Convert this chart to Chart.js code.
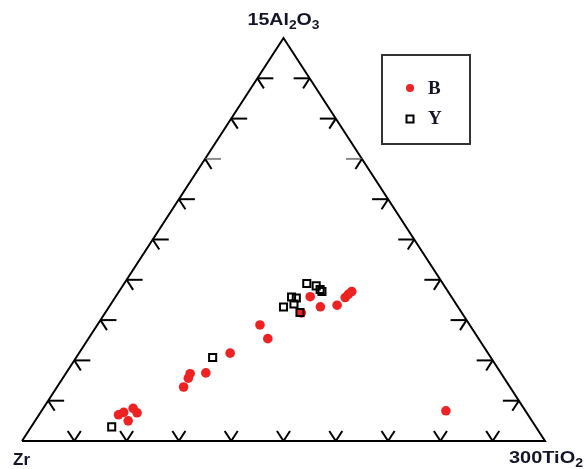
<!DOCTYPE html>
<html>
<head>
<meta charset="utf-8">
<title>Zr – 15Al2O3 – 300TiO2</title>
<script src="https://cdn.jsdelivr.net/npm/chart.js@4.4.1/dist/chart.umd.min.js"></script>
<style>
  html, body { margin: 0; padding: 0; background: #fff; }
  #wrap { width: 586px; height: 469px; }
</style>
</head>
<body>
<div id="wrap"><canvas id="c" width="586" height="469"></canvas></div>
<script>
// Ternary compositions (per cent) for each group: 15Al2O3, Zr, 300TiO2
const bAl = [7.5, 37.1, 36.4, 35.6, 33.7, 33.3, 35.8, 31.8, 28.8, 25.4, 21.8, 16.9, 16.7, 15.6, 13.4, 6.5, 7.1, 5.0, 8.1, 7.0];
const bZr = [15.2, 18.4, 19.4, 20.4, 22.9, 26.3, 27.0, 30.7, 40.1, 40.3, 49.3, 56.4, 59.5, 60.4, 62.4, 78.3, 77.0, 77.2, 74.7, 74.5];
const bTi = [77.3, 44.5, 44.2, 44.0, 43.4, 40.4, 37.2, 37.5, 31.1, 34.3, 28.9, 26.7, 23.8, 24.0, 24.2, 15.2, 15.9, 17.8, 17.2, 18.5];

const yAl = [20.7, 3.5, 39.1, 38.5, 37.6, 37.1, 36.0, 35.5, 33.0, 34.0, 31.9];
const yZr = [53.2, 81.1, 26.0, 24.5, 24.2, 24.1, 30.8, 29.8, 33.1, 31.0, 30.9];
const yTi = [26.1, 15.4, 34.9, 37.0, 38.2, 38.8, 33.9, 34.7, 33.1, 35.0, 37.2];

// Apex labels (text / subscript alternating) and group names
const apexLabels = { top: ['15Al', '2', 'O', '3'], left: ['Zr'], right: ['300TiO', '2'] };
const groupNames = ['B', 'Y'];

// Grid fractions marked along each side
const tickFractions = [0.1, 0.2, 0.3, 0.4, 0.5, 0.6, 0.7, 0.8, 0.9];

// Zr at (0,0), 300TiO2 at (1,0), 15Al2O3 at (0.5,1)
function toXY(al, zr, ti) {
  return al.map((a, i) => {
    const s = a + zr[i] + ti[i];
    return { x: (ti[i] + a / 2) / s, y: a / s };
  });
}

const frame = [{ x: 0, y: 0 }, { x: 1, y: 0 }, { x: 0.5, y: 1 }, { x: 0, y: 0 }];

const ternaryDecor = {
  id: 'ternaryDecor',
  afterDatasetsDraw(chart) {
    const { ctx, scales: { x, y } } = chart;
    const P = (u, v) => ({ px: x.getPixelForValue(u), py: y.getPixelForValue(v) });
    const A = P(0.5, 1), L = P(0, 0), R = P(1, 0);
    const unit = (a, b) => { const dx = b.px - a.px, dy = b.py - a.py, d = Math.hypot(dx, dy); return [dx / d, dy / d]; };
    const upRight = unit(L, A);   // parallel to left side
    const upLeft = unit(R, A);    // parallel to right side
    const arm = 12, flat = 16;

    ctx.save();
    ctx.lineWidth = 2;
    ctx.lineCap = 'butt';
    const seg = (x0, y0, x1, y1, col) => {
      ctx.strokeStyle = col || '#000';
      ctx.beginPath(); ctx.moveTo(x0, y0); ctx.lineTo(x1, y1); ctx.stroke();
    };

    tickFractions.forEach((t, i) => {
      // base: V marks
      const b = P(t, 0);
      seg(b.px, b.py, b.px + upRight[0] * arm, b.py + upRight[1] * arm);
      seg(b.px, b.py, b.px + upLeft[0] * arm, b.py + upLeft[1] * arm);
      const grey = (i === 6) ? '#8a8a8a' : '#000';
      // left side: horizontal to the right + down-right
      const l = P(0.5 * t, t);
      seg(l.px, l.py, l.px + flat, l.py, grey);
      seg(l.px, l.py, l.px - upLeft[0] * arm, l.py - upLeft[1] * arm);
      // right side: horizontal to the left + down-left
      const r = P(1 - 0.5 * t, t);
      seg(r.px, r.py, r.px - flat, r.py, grey);
      seg(r.px, r.py, r.px - upRight[0] * arm, r.py - upRight[1] * arm);
    });

    // apex labels with subscripts, slightly widened
    const big = 'bold 17px "Liberation Sans", Arial, sans-serif';
    const small = 'bold 12px "Liberation Sans", Arial, sans-serif';
    ctx.fillStyle = '#15152a';
    ctx.textBaseline = 'alphabetic';
    ctx.textAlign = 'left';
    const widthOf = (parts) => parts.reduce((w, p, k) => { ctx.font = k % 2 ? small : big; return w + ctx.measureText(p).width; }, 0);
    const drawParts = (parts, startX, baseY, targetW) => {
      const sx = targetW ? targetW / widthOf(parts) : 1;
      ctx.save();
      ctx.translate(startX, baseY);
      ctx.scale(sx, 1);
      let cx = 0;
      parts.forEach((p, k) => {
        const sub = k % 2 === 1;
        ctx.font = sub ? small : big;
        ctx.fillText(p, cx, sub ? 4 : 0);
        cx += ctx.measureText(p).width;
      });
      ctx.restore();
    };
    drawParts(apexLabels.top, A.px - 36, A.py - 13, 72);
    drawParts(apexLabels.left, L.px - 9, L.py + 24, 0);
    drawParts(apexLabels.right, R.px - 36, R.py + 22, 74);

    // legend box
    const bx = 382, by = 55, bw = 88, bh = 89;
    ctx.lineWidth = 2;
    ctx.strokeStyle = '#333';
    ctx.strokeRect(bx, by, bw, bh);
    const ds = chart.data.datasets;
    // B marker
    ctx.fillStyle = ds[1].backgroundColor;
    ctx.beginPath(); ctx.arc(bx + 28, by + 33, 4, 0, Math.PI * 2); ctx.fill();
    // Y marker
    ctx.strokeStyle = ds[2].borderColor;
    ctx.lineWidth = 2;
    ctx.strokeRect(bx + 24.5, by + 60.5, 7, 7);
    ctx.fillStyle = '#15152a';
    ctx.font = 'bold 19px "Liberation Serif", "Times New Roman", serif';
    ctx.fillText(groupNames[0], bx + 46, by + 39);
    ctx.fillText(groupNames[1], bx + 46, by + 69);
    ctx.restore();
  }
};

new Chart(document.getElementById('c'), {
  type: 'scatter',
  data: {
    datasets: [
      {
        type: 'line', label: 'frame', data: frame,
        borderColor: '#000', borderWidth: 2, pointRadius: 0, fill: false, tension: 0, order: 3
      },
      {
        label: groupNames[0], data: toXY(bAl, bZr, bTi),
        backgroundColor: '#ee2222', borderColor: '#ee2222', borderWidth: 0,
        pointStyle: 'circle', pointRadius: 4.8, order: 2
      },
      {
        label: groupNames[1], data: toXY(yAl, yZr, yTi),
        backgroundColor: 'rgba(0,0,0,0)', borderColor: '#000', borderWidth: 2,
        pointStyle: 'rect', pointRadius: 5, order: 1
      }
    ]
  },
  options: {
    responsive: false,
    devicePixelRatio: 1,
    animation: false,
    layout: { padding: { left: 22, right: 41, top: 38, bottom: 28 } },
    scales: {
      x: { type: 'linear', min: 0, max: 1, display: false },
      y: { type: 'linear', min: 0, max: 1, display: false }
    },
    plugins: { legend: { display: false }, tooltip: { enabled: false } },
    elements: { line: { borderJoinStyle: 'miter' } },
    clip: false
  },
  plugins: [ternaryDecor]
});
</script>
</body>
</html>
